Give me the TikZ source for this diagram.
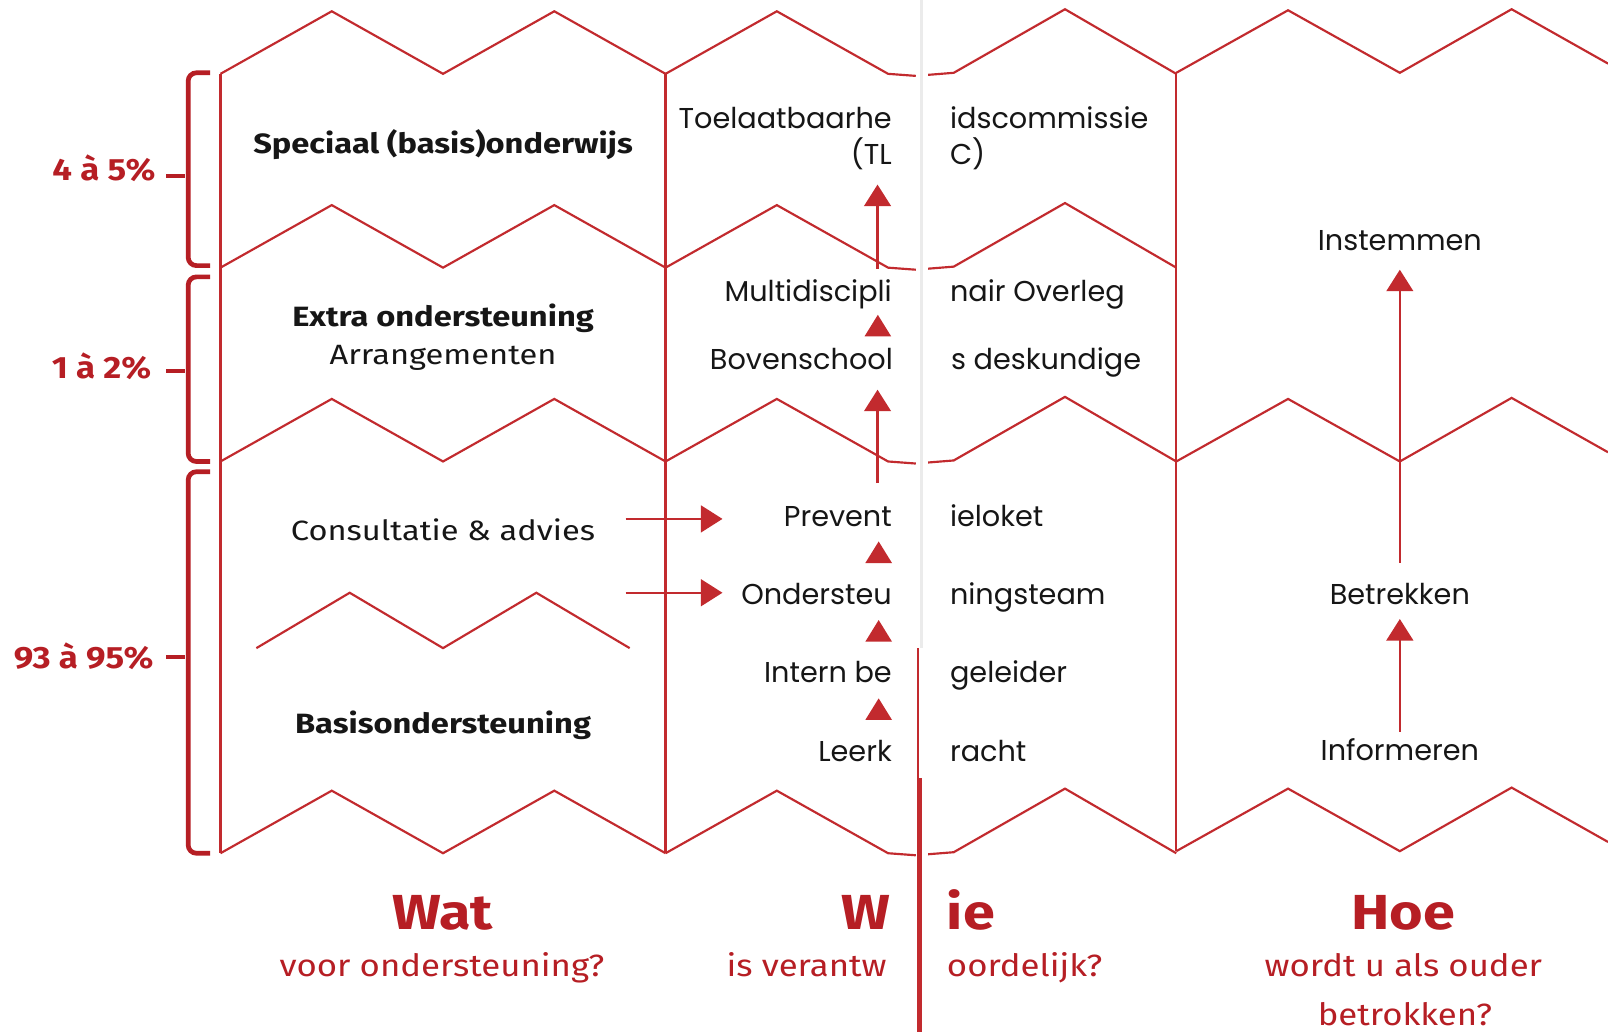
\documentclass[tikz,border=0pt]{standalone}
\usepackage{fontspec}
\setmainfont{Fira Sans}
\newfontfamily\fA[FakeStretch=1.17]{Fira Sans}
\newfontfamily\fB[FakeStretch=1.13]{Fira Sans}
\newfontfamily\mont{Poppins}
\usetikzlibrary{arrows.meta}
\definecolor{lred}{RGB}{194,42,46}
\definecolor{tred}{RGB}{182,30,36}
\definecolor{ink}{RGB}{22,22,22}
\begin{document}
\begin{tikzpicture}[x=0.5pt,y=-0.5pt,
  zz/.style={draw=lred, line width=1.05pt, line join=miter},
  brk/.style={draw=tred, line width=2.3pt, rounded corners=4pt},
  tick/.style={draw=tred, line width=2pt},
  arr/.style={draw=lred, line width=1.2pt, -{Triangle[width=13pt,length=10.5pt]}},
  tri/.style={fill=lred},
  mt/.style={font=\mont\fontsize{14}{16}\selectfont, text=ink, inner sep=0pt},
  ct/.style={font=\fA\fontsize{13.6}{16}\selectfont, text=ink, inner sep=0pt},
  cb/.style={font=\fA\bfseries\fontsize{13.6}{16}\selectfont, text=ink, inner sep=0pt},
  pct/.style={font=\fB\bfseries\fontsize{15}{17}\selectfont, text=tred, inner sep=0pt, anchor=base east},
  big/.style={font=\fA\bfseries\fontsize{24}{26}\selectfont, text=tred, inner sep=0pt},
  sub/.style={font=\fB\fontsize{15}{17}\selectfont, text=tred, inner sep=0pt},
]
\fill[white] (0,0) rectangle (1568,1006);
\useasboundingbox (0,0) rectangle (1568,1006);

% faint fold crease
\draw[black!8, line width=1.5pt] (899,0) -- (899,632);

% zigzag rows
\foreach \V in {72,261,450,832}{
  \draw[zz] (215,\V) -- (323.5,{\V-61}) -- (432,\V) -- (540.5,{\V-61}) -- (649,\V);
  \draw[zz] (649,\V) -- (757.5,{\V-61}) -- (866,\V) -- (893,{\V+2});
  \draw[zz] (905,{\V+1}) -- (930,{\V-1}) -- (1038.5,{\V-63}) -- (1147,\V);
}
\foreach \V in {71,450,830}{
  \draw[zz] (1147,\V) -- (1256,{\V-61}) -- (1365,\V) -- (1474,{\V-62}) -- (1568,{\V-9});
}
\draw[zz] (250,632) -- (341,578) -- (432,632) -- (523,578) -- (614,632);

% vertical panel edges
\draw[zz] (215,72) -- (215,832);
\draw[zz] (649,72) -- (649,832);
\draw[zz] (1147,71) -- (1147,830);

% red fold line
\draw[lred, line width=1.3pt] (895,632) -- (895,760);
\draw[lred, line width=2.4pt] (897,759) -- (897,1006);

% braces
\draw[brk] (205,71) -- (183.5,71) -- (183.5,259) -- (205,259);
\draw[brk] (205,270) -- (183.5,270) -- (183.5,450) -- (205,450);
\draw[brk] (205,460) -- (183.5,460) -- (183.5,832) -- (205,832);
\draw[tick] (162,171.6) -- (180,171.6);
\draw[tick] (162,361.5) -- (180,361.5);
\draw[tick] (162,640.8) -- (180,640.8);

% percentage labels
\node[pct] (p1) at (152,175.6) {4 à 5\%};
\node[pct] (p2) at (148,369) {1 à 2\%};
\node[pct] (p3) at (150,651.6) {93 à 95\%};

% column 1
\node[cb, anchor=base] (spec) at (432,150) {Speciaal (basis)onderwijs};
\node[cb, anchor=base] (extra) at (432,318.6) {Extra ondersteuning};
\node[ct, anchor=base] (arrg) at (432,355) {Arrangementen};
\node[ct, anchor=base] (cons) at (432,526.6) {Consultatie \& advies};
\node[cb, anchor=base] (basis) at (432,715) {Basisondersteuning};

% column 2/3 (split over the fold)
\node[mt, anchor=base east] (tlA) at (870,125) {Toelaatbaarhe};
\node[mt, anchor=base west] (tlB) at (926,125) {idscommissie};
\node[mt, anchor=base east] (tlC) at (870,160) {(TL};
\node[mt, anchor=base west] (tlD) at (926,160) {C)};
\node[mt, anchor=base east] (mdA) at (870,294) {Multidiscipli};
\node[mt, anchor=base west] (mdB) at (926,294) {nair Overleg};
\node[mt, anchor=base east] (bvA) at (871,360) {Bovenschool};
\node[mt, anchor=base west] (bvB) at (927,360) {s deskundige};
\node[mt, anchor=base east] (prA) at (870,513) {Prevent};
\node[mt, anchor=base west] (prB) at (926,513) {ieloket};
\node[mt, anchor=base east] (otA) at (870,589) {Ondersteu};
\node[mt, anchor=base west] (otB) at (926,589) {ningsteam};
\node[mt, anchor=base east] (ibA) at (870,666) {Intern be};
\node[mt, anchor=base west] (ibB) at (926,666) {geleider};
\node[mt, anchor=base east] (lkA) at (870,743) {Leerk};
\node[mt, anchor=base west] (lkB) at (926,743) {racht};

% column 4
\node[mt, anchor=base] (inst) at (1365,244) {Instemmen};
\node[mt, anchor=base] (betr) at (1365,589) {Betrekken};
\node[mt, anchor=base] (info) at (1365,742) {Informeren};

% arrows column 2
\coordinate (a1s) at (855.7,262);
\coordinate (a1e) at (855.7,180);
\draw[arr] (a1s) -- (a1e);
\coordinate (a2s) at (855.7,471);
\coordinate (a2e) at (855.7,380);
\draw[arr] (a2s) -- (a2e);
\fill[tri] (856,307) -- (869,328) -- (843,328) -- cycle;
\fill[tri] (856.8,528) -- (869.8,549) -- (843.8,549) -- cycle;
\fill[tri] (856.8,604.6) -- (869.8,625.7) -- (843.8,625.7) -- cycle;
\fill[tri] (856.8,681) -- (869.8,702) -- (843.8,702) -- cycle;

% horizontal arrows
\coordinate (h1s) at (610,506);
\coordinate (h1e) at (704.5,506);
\draw[arr] (h1s) -- (h1e);
\coordinate (h2s) at (610,578);
\coordinate (h2e) at (704.5,578);
\draw[arr] (h2s) -- (h2e);

% arrows column 4
\coordinate (a3s) at (1365,548.7);
\coordinate (a3e) at (1365,263);
\draw[arr] (a3s) -- (a3e);
\coordinate (a4s) at (1365,713.5);
\coordinate (a4e) at (1365,603.6);
\draw[arr] (a4s) -- (a4e);

% bottom headings
\node[big, anchor=base] (wat) at (431.5,906) {Wat};
\node[sub, anchor=base] (watS) at (431,952) {voor ondersteuning?};
\node[big, anchor=base east] (wieA) at (869,906) {W};
\node[big, anchor=base west] (wieB) at (923,906) {ie};
\node[sub, anchor=base east] (wieC) at (865,952) {is verantw};
\node[sub, anchor=base west] (wieD) at (923,952) {oordelijk?};
\node[big, anchor=base] (hoe) at (1368,906) {Hoe};
\node[sub, anchor=base] (hoeS) at (1368.5,952) {wordt u als ouder};
\node[sub, anchor=base] (hoeT) at (1370,999.5) {betrokken?};
\end{tikzpicture}
\end{document}
